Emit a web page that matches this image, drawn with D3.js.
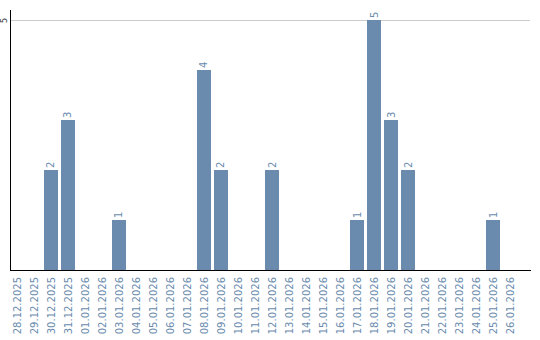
<!DOCTYPE html>
<html><head><meta charset="utf-8">
<script src="https://cdn.jsdelivr.net/npm/d3@7"></script>
<style>body{margin:0;background:#fff}</style>
</head><body>
<svg id="c" width="540" height="340"></svg>
<script>
const categories = ["28.12.2025","29.12.2025","30.12.2025","31.12.2025","01.01.2026","02.01.2026","03.01.2026","04.01.2026","05.01.2026","06.01.2026","07.01.2026","08.01.2026","09.01.2026","10.01.2026","11.01.2026","12.01.2026","13.01.2026","14.01.2026","15.01.2026","16.01.2026","17.01.2026","18.01.2026","19.01.2026","20.01.2026","21.01.2026","22.01.2026","23.01.2026","24.01.2026","25.01.2026","26.01.2026"];
const values = [0,0,2,3,0,0,1,0,0,0,0,4,2,0,0,2,0,0,0,0,1,5,3,2,0,0,0,0,1,0];
const yTicks = [5];

const svg = d3.select("#c");
const color = "#6a8bad";
const x = d3.scaleBand().domain(categories).range([10, 517]).paddingInner(0.18).paddingOuter(0);
const y = d3.scaleLinear().domain([0, 5.2]).range([270, 10]);

// grid
svg.append("g").selectAll("line").data(yTicks).join("line")
  .attr("x1", 11).attr("x2", 530).attr("y1", d => y(d)+0.5).attr("y2", d => y(d)+0.5)
  .attr("stroke", "#cccccc").attr("stroke-width", 1);

// bars
svg.append("g").selectAll("rect").data(values.map((v,i)=>({c:categories[i],v}))).join("rect")
  .filter(d => d.v > 0)
  .attr("x", d => x(d.c)).attr("width", x.bandwidth())
  .attr("y", d => y(d.v)).attr("height", d => y(0) - y(d.v))
  .attr("fill", color).attr("shape-rendering","crispEdges");

// value labels
svg.append("g").selectAll("text").data(values.map((v,i)=>({c:categories[i],v})).filter(d=>d.v>0)).join("text")
  .attr("transform", d => `translate(${x(d.c)+x.bandwidth()/2+3.5},${y(d.v)-2}) rotate(-90)`)
  .attr("font-family","DejaVu Sans").attr("font-size","10px").attr("fill", color)
  .text(d => d.v);

// x axis
const xAxis = svg.append("g").attr("transform","translate(0,270)")
  .call(d3.axisBottom(x).tickSize(0).tickPadding(0));
xAxis.select(".domain").remove();
xAxis.selectAll("text")
  .attr("font-family","DejaVu Sans").attr("font-size","10px").attr("fill", color)
  .attr("text-anchor","end").attr("dy", null).attr("y", 0).attr("x", 0)
  .attr("transform","translate(4,7) rotate(-90)");

// y axis labels
svg.append("g").selectAll("text").data(yTicks).join("text")
  .attr("transform", d => `translate(7,${y(d)+0.5}) rotate(-90)`)
  .attr("text-anchor","middle")
  .attr("font-family","DejaVu Sans").attr("font-size","8px").attr("fill","#333")
  .text(d => d);

// axis lines
svg.append("line").attr("x1",10.5).attr("x2",10.5).attr("y1",10).attr("y2",270.5)
  .attr("stroke","#000").attr("stroke-width",1);
svg.append("line").attr("x1",10).attr("x2",531).attr("y1",270.5).attr("y2",270.5)
  .attr("stroke","#000").attr("stroke-width",1);
</script>
</body></html>
